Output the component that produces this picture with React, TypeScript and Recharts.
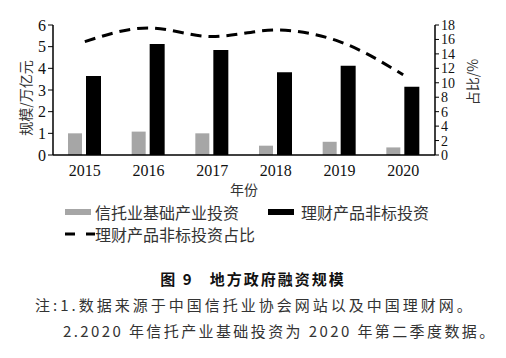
import React from 'react'
import { ComposedChart, Bar, Line, XAxis, YAxis } from 'recharts'

const years = ['2015', '2016', '2017', '2018', '2019', '2020']
// 信托业基础产业投资 (万亿元)
const trustInfra = [1.0, 1.08, 1.0, 0.43, 0.61, 0.35]
// 理财产品非标投资 (万亿元)
const wmNonStd = [3.65, 5.12, 4.85, 3.82, 4.12, 3.15]
// 理财产品非标投资占比 (%)
const wmShare = [15.7, 17.6, 16.4, 17.3, 15.7, 11.1]

const leftTicks = [0, 1, 2, 3, 4, 5, 6]
const rightTicks = [0, 2, 4, 6, 8, 10, 12, 14, 16, 18]

const data = years.map((y, i) => ({
  year: y,
  trust: trustInfra[i],
  wm: wmNonStd[i],
  share: wmShare[i],
}))

const SERIF = '"Liberation Serif", "Times New Roman", serif'
const CJK = '"Noto Sans CJK SC", sans-serif'

export default function App() {
  return (
    <div style={{ position: 'absolute', left: 0, top: 0, width: 506, height: 358, background: '#fff', fontFamily: CJK }}>
      <ComposedChart
        width={506}
        height={200}
        data={data}
        margin={{ top: 25, right: 21, bottom: 5, left: 18 }}
        barGap={4}
      >
        <XAxis
          dataKey="year"
          tickLine={false}
          axisLine={{ stroke: '#000', strokeWidth: 1.5 }}
          tick={{ fill: '#111', fontSize: 16, fontFamily: SERIF }}
          height={40}
          tickMargin={4}
          interval={0}
          label={{ value: '年份', position: 'insideBottom', offset: 0, fill: '#333', fontSize: 14, fontFamily: CJK }}
        />
        <YAxis
          yAxisId="l"
          domain={[0, 6]}
          ticks={leftTicks}
          interval={0}
          width={35}
          tickSize={5}
          tickLine={{ stroke: '#000' }}
          axisLine={{ stroke: '#000', strokeWidth: 1.5 }}
          tick={{ fill: '#111', fontSize: 16, fontFamily: SERIF }}
          label={{ value: '规模/万亿元', angle: -90, position: 'center', dx: -9, dy: 8, fill: '#333', fontSize: 14, fontFamily: CJK }}
        />
        <YAxis
          yAxisId="r"
          orientation="right"
          domain={[0, 18]}
          ticks={rightTicks}
          interval={0}
          width={50}
          tickSize={4}
          tickLine={{ stroke: '#000' }}
          axisLine={{ stroke: '#000', strokeWidth: 1.5 }}
          tick={{ fill: '#111', fontSize: 14, fontFamily: SERIF }}
          label={{ value: '占比/%', angle: -90, position: 'center', dx: 13, dy: -8, fill: '#333', fontSize: 14, fontFamily: CJK }}
        />
        <Bar yAxisId="l" dataKey="trust" fill="#a6a6a6" barSize={14} isAnimationActive={false} />
        <Bar yAxisId="l" dataKey="wm" fill="#000" barSize={15} isAnimationActive={false} />
        <Line
          yAxisId="r"
          type="monotone"
          dataKey="share"
          stroke="#000"
          strokeWidth={3}
          strokeDasharray="11 7"
          dot={false}
          isAnimationActive={false}
        />
      </ComposedChart>

      {/* legend */}
      <div style={{ position: 'absolute', left: 65, top: 203, fontSize: 16, color: '#333', lineHeight: '18px' }}>
        <div style={{ display: 'flex', alignItems: 'center', height: 18 }}>
          <span style={{ display: 'inline-block', width: 26, height: 6, background: '#a6a6a6', marginRight: 4 }} />
          <span>信托业基础产业投资</span>
          <span style={{ display: 'inline-block', width: 26, height: 6, background: '#000', marginLeft: 29, marginRight: 7 }} />
          <span>理财产品非标投资</span>
        </div>
        <div style={{ display: 'flex', alignItems: 'center', height: 18, marginTop: 4 }}>
          <svg width={30} height={6} style={{ marginRight: 0 }}>
            <line x1={0} y1={3} x2={30} y2={3} stroke="#000" strokeWidth={3} strokeDasharray="10 11" />
          </svg>
          <span>理财产品非标投资占比</span>
        </div>
      </div>

      {/* caption */}
      <div style={{ position: 'absolute', left: 0, width: 506, top: 268, textAlign: 'center', fontSize: 15, fontWeight: 'bold', color: '#111', letterSpacing: 2 }}>
        图 9&nbsp;&nbsp;&nbsp;地方政府融资规模
      </div>
      <div style={{ position: 'absolute', left: 35, top: 294, fontSize: 15, color: '#333', letterSpacing: 3, whiteSpace: 'nowrap' }}>
        注:1.数据来源于中国信托业协会网站以及中国理财网。
      </div>
      <div style={{ position: 'absolute', left: 63, top: 320, fontSize: 15, color: '#333', letterSpacing: 2.4, whiteSpace: 'nowrap' }}>
        2.2020 年信托产业基础投资为 2020 年第二季度数据。
      </div>
    </div>
  )
}
